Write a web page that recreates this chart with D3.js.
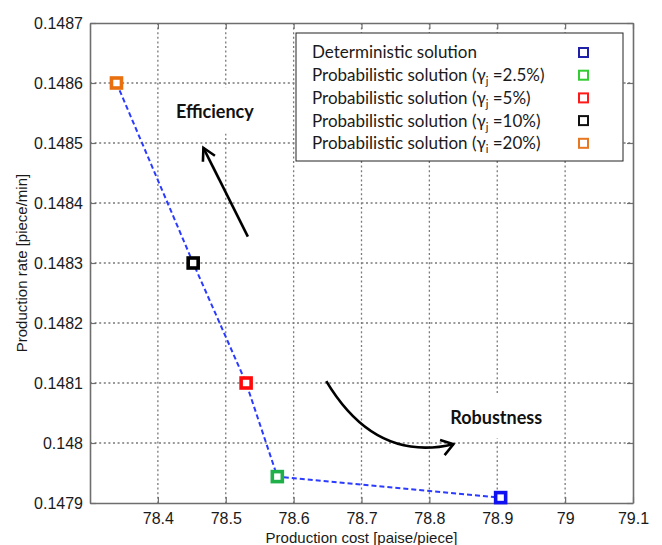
<!DOCTYPE html>
<html>
<head>
<meta charset="utf-8">
<script src="https://cdn.jsdelivr.net/npm/d3@7"></script>
<style>
  html, body { margin: 0; padding: 0; background: #fff; }
  svg { display: block; }
</style>
</head>
<body>
<svg id="chart" width="662" height="545"></svg>
<script>
// ---- data ----
const seriesNames = [
  "Deterministic solution",
  "Probabilistic solution (γj =2.5%)",
  "Probabilistic solution (γj =5%)",
  "Probabilistic solution (γj =10%)",
  "Probabilistic solution (γi =20%)"
];
const gammaSub = [null, "j", "j", "j", "i"];
const gammaVal = [null, "2.5%", "5%", "10%", "20%"];
const productionCost = [78.905, 78.576, 78.530, 78.452, 78.339];
const productionRate = [0.147909, 0.147944, 0.14810, 0.14830, 0.14860];
const colors = ["#1010f0", "#1fb04a", "#ff0a0a", "#000000", "#e8700f"];
const legendColors = ["#2020a8", "#33cc33", "#ff1a1a", "#111111", "#e87722"];
const xTicks = [78.4, 78.5, 78.6, 78.7, 78.8, 78.9, 79.0, 79.1];
const yTicks = [0.1479, 0.148, 0.1481, 0.1482, 0.1483, 0.1484, 0.1485, 0.1486, 0.1487];
const xDomain = [78.3, 79.1];
const yDomain = [0.1479, 0.1487];
// annotation anchors (data coordinates)
const effArrow = [[78.5326, 0.148344], [78.4671, 0.148492]];
const effLabel = {text: "Efficiency", x: 78.4839, y: 0.148553};
const robArrow = [[78.6481, 0.148103], [78.6909, 0.148022], [78.7499, 0.147975], [78.8354, 0.147998]];
const robLabel = {text: "Robustness", x: 78.8985, y: 0.148043};

// ---- layout ----
const W = 662, H = 545;
const m = {left: 90, top: 23, right: 29, bottom: 42};
const iw = W - m.left - m.right, ih = H - m.top - m.bottom;

const svg = d3.select("#chart");
const g = svg.append("g").attr("transform", `translate(${m.left},${m.top})`);

const x = d3.scaleLinear().domain(xDomain).range([0, iw]);
const y = d3.scaleLinear().domain(yDomain).range([ih, 0]);

const tickFont = "'Liberation Sans', Arial, sans-serif";
const gridColor = "#7a7a7a";

// grid
g.append("g").selectAll("line").data(xTicks.filter(t => t < xDomain[1] - 1e-9)).join("line")
  .attr("x1", d => x(d)).attr("x2", d => x(d)).attr("y1", 0).attr("y2", ih)
  .attr("stroke", gridColor).attr("stroke-width", 1.3).attr("stroke-dasharray", "2,2.6");
g.append("g").selectAll("line").data(yTicks.filter(t => t > yDomain[0] + 1e-9 && t < yDomain[1] - 1e-9)).join("line")
  .attr("x1", 0).attr("x2", iw).attr("y1", d => y(d)).attr("y2", d => y(d))
  .attr("stroke", gridColor).attr("stroke-width", 1.3).attr("stroke-dasharray", "2,2.6");

// axes
const fmtY = d => String(+d.toFixed(4));
const fmtX = d => String(+d.toFixed(1));
const axB = g.append("g").attr("transform", `translate(0,${ih})`)
  .call(d3.axisBottom(x).tickValues(xTicks).tickFormat(fmtX).tickSize(-6).tickSizeOuter(0).tickPadding(10));
const axL = g.append("g")
  .call(d3.axisLeft(y).tickValues(yTicks).tickFormat(fmtY).tickSize(-6).tickSizeOuter(0).tickPadding(7));
const axT = g.append("g")
  .call(d3.axisTop(x).tickValues(xTicks).tickFormat("").tickSize(-6).tickSizeOuter(0));
const axR = g.append("g").attr("transform", `translate(${iw},0)`)
  .call(d3.axisRight(y).tickValues(yTicks).tickFormat("").tickSize(-6).tickSizeOuter(0));
[axB, axL, axT, axR].forEach(a => {
  a.select(".domain").attr("stroke", "#6e6e6e").attr("stroke-width", 1.6);
  a.selectAll(".tick line").attr("stroke", "#6e6e6e").attr("stroke-width", 1.2);
  a.selectAll(".tick text").attr("font-family", tickFont).attr("font-size", 16).attr("fill", "#1a1a1a");
});

// axis titles
svg.append("text").attr("x", m.left + iw / 2).attr("y", 543)
  .attr("text-anchor", "middle").attr("font-family", tickFont).attr("font-size", 15).attr("fill", "#1a1a1a")
  .text("Production cost [paise/piece]");
svg.append("text").attr("transform", `translate(27,${m.top + ih / 2}) rotate(-90)`)
  .attr("text-anchor", "middle").attr("font-family", tickFont).attr("font-size", 15).attr("fill", "#1a1a1a")
  .text("Production rate [piece/min]");

// annotations
const annFont = "Lato, 'Open Sans', sans-serif";
function boxedLabel(lbl, padX, padY) {
  const bg = g.append("rect").attr("fill", "#fff");
  const t = g.append("text").attr("x", x(lbl.x)).attr("y", y(lbl.y)).attr("dy", "0.35em")
    .attr("text-anchor", "middle").attr("font-family", annFont).attr("font-weight", 700)
    .attr("font-size", 18).attr("fill", "#111").text(lbl.text);
  const bb = t.node().getBBox();
  bg.attr("x", bb.x - padX).attr("y", bb.y - padY).attr("width", bb.width + 2 * padX).attr("height", bb.height + 2 * padY);
}
boxedLabel(effLabel, 9, 12);
boxedLabel(robLabel, 8, 11);

function arrowHead(tip, from, len, ang) {
  const dx = from[0] - tip[0], dy = from[1] - tip[1];
  const a = Math.atan2(dy, dx);
  const p1 = [tip[0] + len * Math.cos(a + ang), tip[1] + len * Math.sin(a + ang)];
  const p2 = [tip[0] + len * Math.cos(a - ang), tip[1] + len * Math.sin(a - ang)];
  return `M${p1[0]},${p1[1]}L${tip[0]},${tip[1]}L${p2[0]},${p2[1]}`;
}
const ea = effArrow.map(d => [x(d[0]), y(d[1])]);
g.append("path").attr("d", `M${ea[0][0]},${ea[0][1]}L${ea[1][0]},${ea[1][1]}`)
  .attr("stroke", "#000").attr("stroke-width", 2.6).attr("fill", "none");
g.append("path").attr("d", arrowHead(ea[1], ea[0], 14, 0.5))
  .attr("stroke", "#000").attr("stroke-width", 2.6).attr("fill", "none").attr("stroke-linejoin", "miter");
const ra = robArrow.map(d => [x(d[0]), y(d[1])]);
g.append("path").attr("d", `M${ra[0][0]},${ra[0][1]}C${ra[1][0]},${ra[1][1]} ${ra[2][0]},${ra[2][1]} ${ra[3][0]},${ra[3][1]}`)
  .attr("stroke", "#000").attr("stroke-width", 2.6).attr("fill", "none");
g.append("path").attr("d", arrowHead(ra[3], [ra[3][0] - 10, ra[3][1] + 3], 14, 0.6))
  .attr("stroke", "#000").attr("stroke-width", 2.6).attr("fill", "none");

// dashed connecting line
const pts = productionCost.map((c, i) => ({c, r: productionRate[i], i})).sort((a, b) => a.c - b.c);
g.append("path").datum(pts)
  .attr("d", d3.line().x(d => x(d.c)).y(d => y(d.r)))
  .attr("fill", "none").attr("stroke", "#2b3bff").attr("stroke-width", 2).attr("stroke-dasharray", "5,3");

// markers
const ms = 10;
g.append("g").selectAll("rect").data(productionCost.map((c, i) => ({c, r: productionRate[i], i}))).join("rect")
  .attr("x", d => x(d.c) - ms / 2).attr("y", d => y(d.r) - ms / 2)
  .attr("width", ms).attr("height", ms)
  .attr("fill", "#fff").attr("stroke", d => colors[d.i]).attr("stroke-width", 3.6);

// legend
const lg = g.append("g").attr("transform", `translate(${296 - m.left},${33 - m.top})`);
lg.append("rect").attr("x", 0).attr("y", 0).attr("width", 327).attr("height", 128)
  .attr("fill", "#fff").attr("stroke", "#222").attr("stroke-width", 1);
const rows = lg.selectAll("g.row").data(seriesNames.map((n, i) => i)).join("g")
  .attr("class", "row").attr("transform", i => `translate(0,${19.5 + i * 22.7})`);
rows.each(function(i) {
  const r = d3.select(this);
  const t = r.append("text").attr("x", 16).attr("y", 0).attr("dy", "0.35em")
    .attr("font-family", annFont).attr("font-size", 17).attr("fill", "#1a1a1a");
  if (gammaSub[i] === null) {
    t.text(seriesNames[i]);
  } else {
    t.append("tspan").text("Probabilistic solution (γ");
    t.append("tspan").attr("font-size", 11).attr("dy", 4).text(gammaSub[i]);
    t.append("tspan").attr("dy", -4).text(" =" + gammaVal[i] + ")");
  }
  r.append("rect").attr("x", 287.5 - 4.5).attr("y", -4.5).attr("width", 9).attr("height", 9)
    .attr("fill", "#fff").attr("stroke", legendColors[i]).attr("stroke-width", 2);
});
</script>
</body>
</html>
